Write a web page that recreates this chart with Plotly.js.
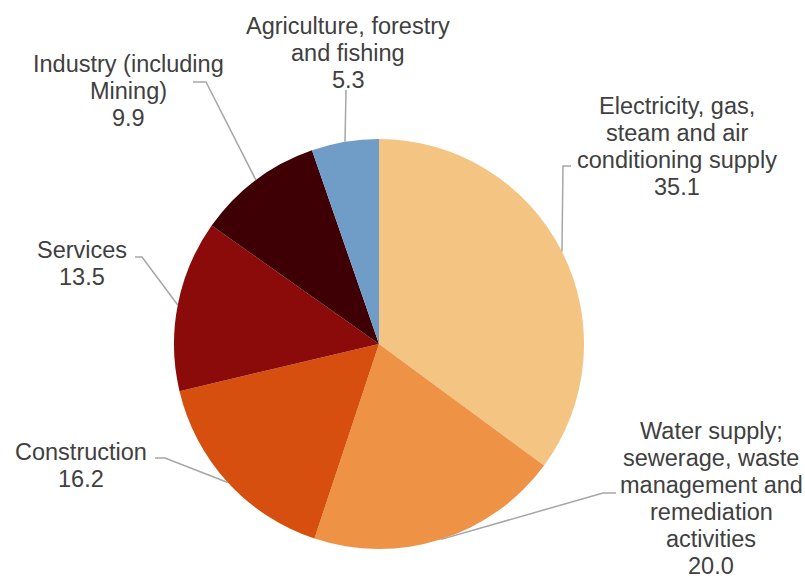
<!DOCTYPE html>
<html>
<head>
<meta charset="utf-8">
<script src="https://cdn.plot.ly/plotly-3.0.1.min.js"></script>
<style>html,body{margin:0;padding:0;background:#fff;}#chart{width:805px;height:579px;}</style>
</head>
<body>
<div id="chart"></div>
<script>
// ---- data ----
const categories = [
  "Electricity, gas, steam and air conditioning supply",
  "Water supply; sewerage, waste management and remediation activities",
  "Construction",
  "Services",
  "Industry (including Mining)",
  "Agriculture, forestry and fishing"
];
const values = [35.1, 20.0, 16.2, 13.5, 9.9, 5.3];
const labelLines = [
  ["Electricity, gas,", "steam and air", "conditioning supply"],
  ["Water supply;", "sewerage, waste", "management and", "remediation", "activities"],
  ["Construction"],
  ["Services"],
  ["Industry (including", "Mining)"],
  ["Agriculture, forestry", "and fishing"]
];
const colors = ["#F4C482", "#EE9246", "#D64F0E", "#8A0B0A", "#3E0005", "#6F9DC8"];

// ---- layout (pixels) ----
const W = 805, H = 579;
const cx = 379, cy = 344, R = 205;
const labelPos = [ // [center x, first line center y]
  [677, 106], [711, 431], [81, 452], [82, 250], [128, 64], [348, 26]
];
const leaderPts = [ // elbow + end points in pixels
  [[563, 166], [571, 166]],
  [[603, 493], [616, 493]],
  [[165, 458], [155, 458]],
  [[142, 257], [135, 257]],
  [[206, 82], [193, 82]],
  [[346, 90], [346, 90]]
];
const lineGap = 27;
const fontSize = 23.5;
const textColor = "#404040";

const px = x => x / W;
const py = y => 1 - y / H;

const total = values.reduce((a, b) => a + b, 0);
const annotations = [];
const shapes = [];
let cum = 0;
values.forEach((v, i) => {
  const mid = (cum + v / 2) / total * 2 * Math.PI;
  cum += v;
  const ax = cx + R * Math.sin(mid);
  const ay = cy - R * Math.cos(mid);
  const pts = [[ax, ay]].concat(leaderPts[i]);
  const path = pts.map((p, k) => (k ? "L" : "M") + px(p[0]).toFixed(5) + "," + py(p[1]).toFixed(5)).join(" ");
  shapes.push({type: "path", xref: "paper", yref: "paper", path: path,
    line: {color: "#A6A6A6", width: 1.5}});
  const lines = labelLines[i].concat([v.toFixed(1)]);
  lines.forEach((t, k) => {
    annotations.push({
      xref: "paper", yref: "paper",
      x: px(labelPos[i][0]), y: py(labelPos[i][1] + k * lineGap),
      xanchor: "center", yanchor: "middle",
      text: t, showarrow: false,
      font: {family: "Liberation Sans, Arial, sans-serif", size: fontSize, color: textColor}
    });
  });
});

const trace = {
  type: "pie",
  labels: categories,
  values: values,
  sort: false,
  direction: "clockwise",
  rotation: 0,
  textinfo: "none",
  hoverinfo: "label+value",
  marker: {colors: colors, line: {width: 0}},
  domain: {x: [px(cx - R), px(cx + R)], y: [py(cy + R), py(cy - R)]},
  showlegend: false
};

Plotly.newPlot("chart", [trace], {
  width: W, height: H,
  margin: {l: 0, r: 0, t: 0, b: 0},
  paper_bgcolor: "#ffffff",
  showlegend: false,
  annotations: annotations,
  shapes: shapes
}, {displayModeBar: false, staticPlot: true});
</script>
</body>
</html>
